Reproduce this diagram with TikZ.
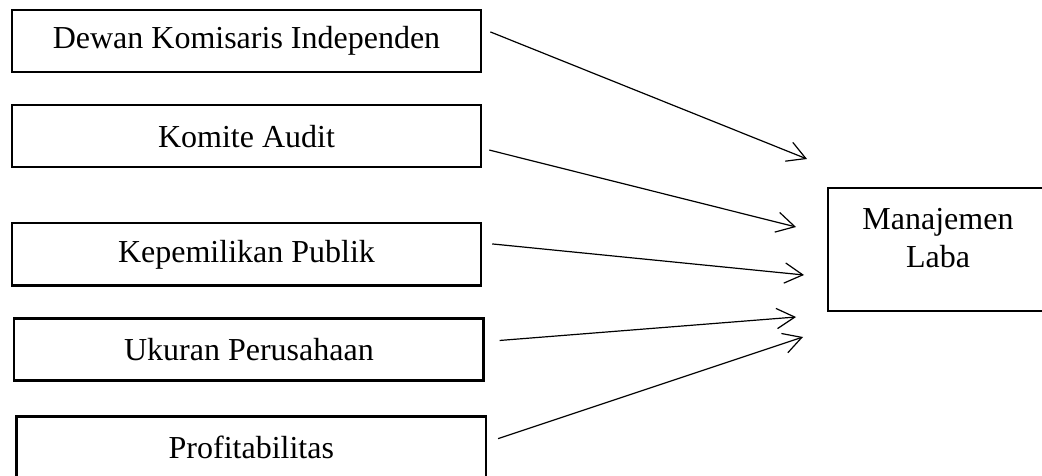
\documentclass[tikz,border=0pt]{standalone}
\usepackage{fontspec}
\setmainfont{Liberation Serif}
\usetikzlibrary{arrows.meta, positioning}

\begin{document}
\begin{tikzpicture}[
    x=0.375pt, y=-0.375pt,
    node distance=11.5pt,
    box/.style={draw, line width=0.9pt, minimum width=176pt, minimum height=23.3pt,
                inner sep=0pt, font=\fontsize{12}{14.25}\selectfont, align=center},
    arr/.style={-{Straight Barb[length=6.8pt, width=7.6pt]}, line width=0.45pt},
  ]
  \useasboundingbox (0,0) rectangle (1042,476);

  \node[box] (dki) at (246.5,41) {Dewan Komisaris Independen};
  \node[box, below=of dki] (ka) {Komite Audit};
  \node[box, below=20.1pt of ka] (kp) {Kepemilikan Publik};
  \node[box, below=of kp, xshift=0.9pt] (up) {Ukuran Perusahaan};
  \node[box, below=12.6pt of up, xshift=0.9pt] (prof) {Profitabilitas};

  \node[box, minimum width=82.5pt, minimum height=46.1pt] (ml) at (938,249.5) {};
  \node[font=\fontsize{12}{14.25}\selectfont, align=center, inner sep=0pt] (mltext) at (938,238) {Manajemen\\Laba};

  \coordinate (e1) at (807,159);
  \coordinate (e2) at (796,227);
  \coordinate (e3) at (804,275);
  \coordinate (e4) at (796,317);
  \coordinate (e5) at (803,337);

  \draw[arr] ([xshift=3pt, yshift=3.4pt]dki.east) -- (e1);
  \draw[arr] ([xshift=2.6pt, yshift=-5.2pt]ka.east) -- (e2);
  \draw[arr] ([xshift=3.7pt, yshift=3.9pt]kp.east) -- (e3);
  \draw[arr] ([xshift=5.6pt, yshift=3.4pt]up.east) -- (e4);
  \draw[arr] ([xshift=4.1pt, yshift=3.4pt]prof.east) -- (e5);
\end{tikzpicture}
\end{document}
